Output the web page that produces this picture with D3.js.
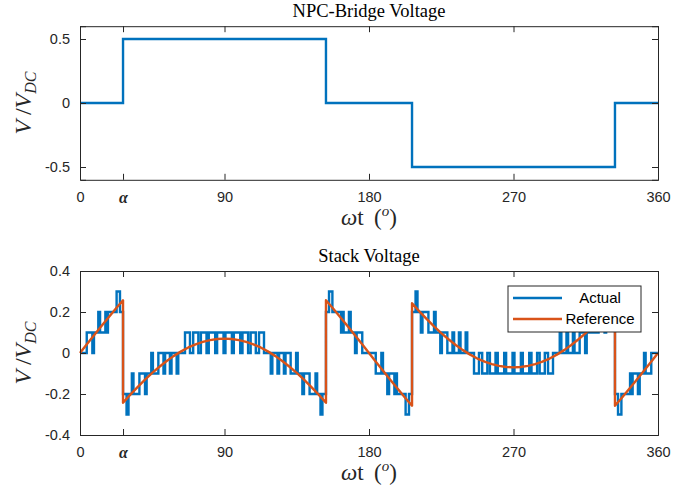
<!DOCTYPE html>
<html>
<head>
<meta charset="utf-8">
<script src="https://cdn.jsdelivr.net/npm/d3@7/dist/d3.min.js"></script>
<style>
  body { margin: 0; background: #fff; }
  svg { display: block; }
</style>
</head>
<body>
<svg id="chart" width="697" height="491"></svg>
<script>
// firing angle of the NPC bridge (deg)
let alphaDeg = 26.8;

let xTicks = [0, alphaDeg, 90, 180, 270, 360];
let xTickLabels = ["0", "α", "90", "180", "270", "360"];

// NPC-bridge output (step after)
let npcDeg = [0, 26.8, 153.2, 206.8, 333.2, 360];
let npcLevel = [0, 0.5, 0, -0.5, 0, 0];

// stack voltage, actual (step after: level starting at each angle)
let actualDeg = [
  0, 4.2, 7.7, 8.7, 11.4, 12.5, 15.8, 16.6, 17.4, 22.8, 24.9,
  26.8, 29.0, 30.2, 32.3, 33.3, 37.0, 40.5, 41.5, 44.4, 45.4, 48.8,
  52.0, 53.0, 56.0, 57.0, 60.2, 61.2, 65.4, 68.5, 70.5, 73.7, 75.3,
  78.8, 80.2, 84.2, 85.4, 89.4, 90.6, 94.6, 95.8, 99.8, 101.2, 104.7,
  106.3, 109.5, 111.5, 114.6, 118.8, 119.8, 123.0, 124.0, 127.0, 128.0,
  131.2, 134.6, 135.6, 138.5, 139.5, 143.0, 146.7, 147.7, 149.8, 151.0,
  153.2, 155.1, 157.2, 162.6, 163.4, 164.2, 167.5, 168.6, 171.3, 172.3, 175.8,
  184.2, 187.7, 188.7, 191.4, 192.5, 195.8, 196.6, 197.4, 202.8, 204.9,
  206.8, 209.0, 210.2, 212.3, 213.3, 217.0, 220.5, 221.5, 224.4, 225.4, 228.8,
  232.0, 233.0, 236.0, 237.0, 240.2, 241.2, 245.4, 248.5, 250.5, 253.7, 255.3,
  258.8, 260.2, 264.2, 265.4, 269.4, 270.6, 274.6, 275.8, 279.8, 281.2, 284.7,
  286.3, 289.5, 291.5, 294.6, 298.8, 299.8, 303.0, 304.0, 307.0, 308.0,
  311.2, 314.6, 315.6, 318.5, 319.5, 323.0, 326.7, 327.7, 329.8, 331.0,
  333.2, 335.1, 337.2, 342.6, 343.4, 344.2, 347.5, 348.6, 351.3, 352.3, 355.8,
  360
];
let actualLevel = [
  0, 0.1, 0, 0.1, 0.2, 0.1, 0.2, 0.1, 0.2, 0.3, 0.2,
  -0.2, -0.3, -0.2, -0.1, -0.2, -0.1, -0.2, -0.1, 0, -0.1, 0,
  -0.1, 0, -0.1, 0, -0.1, 0, 0.1, 0, 0.1, 0, 0.1,
  0, 0.1, 0, 0.1, 0, 0.1, 0, 0.1, 0, 0.1, 0,
  0.1, 0, 0.1, 0, -0.1, 0, -0.1, 0, -0.1, 0,
  -0.1, 0, -0.1, -0.2, -0.1, -0.2, -0.1, -0.2, -0.3, -0.2,
  0.2, 0.3, 0.2, 0.1, 0.2, 0.1, 0.2, 0.1, 0, 0.1, 0,
  -0.1, 0, -0.1, -0.2, -0.1, -0.2, -0.1, -0.2, -0.3, -0.2,
  0.2, 0.3, 0.2, 0.1, 0.2, 0.1, 0.2, 0.1, 0, 0.1, 0,
  0.1, 0, 0.1, 0, 0.1, 0, -0.1, 0, -0.1, 0, -0.1,
  0, -0.1, 0, -0.1, 0, -0.1, 0, -0.1, 0, -0.1, 0,
  -0.1, 0, -0.1, 0, 0.1, 0, 0.1, 0, 0.1, 0,
  0.1, 0, 0.1, 0.2, 0.1, 0.2, 0.1, 0.2, 0.3, 0.2,
  -0.2, -0.3, -0.2, -0.1, -0.2, -0.1, -0.2, -0.1, 0, -0.1, 0,
  0
];

// stack voltage, reference
let refDeg = [
  0, 4.5, 9, 13.5, 18, 22.5, 26.8,
  26.8, 31.5, 36, 40.5, 45, 49.5, 54, 58.5, 63, 67.5, 72, 76.5, 81, 85.5, 90,
  94.5, 99, 103.5, 108, 112.5, 117, 121.5, 126, 130.5, 135, 139.5, 144, 148.5, 153.2,
  153.2, 157.5, 162, 166.5, 171, 175.5, 180,
  184.5, 189, 193.5, 198, 202.5, 206.8,
  206.8, 211.5, 216, 220.5, 225, 229.5, 234, 238.5, 243, 247.5, 252, 256.5, 261, 265.5, 270,
  274.5, 279, 283.5, 288, 292.5, 297, 301.5, 306, 310.5, 315, 319.5, 324, 328.5, 333.2,
  333.2, 337.5, 342, 346.5, 351, 355.5, 360
];
let refVal = [
  0, 0.045, 0.089, 0.133, 0.176, 0.218, 0.257,
  -0.243, -0.202, -0.165, -0.130, -0.097, -0.067, -0.039, -0.014, 0.008, 0.027, 0.042, 0.054, 0.063, 0.068, 0.070,
  0.068, 0.063, 0.054, 0.042, 0.027, 0.008, -0.014, -0.039, -0.067, -0.097, -0.130, -0.165, -0.202, -0.243,
  0.257, 0.218, 0.176, 0.133, 0.089, 0.045, 0,
  -0.045, -0.089, -0.133, -0.176, -0.218, -0.257,
  0.243, 0.202, 0.165, 0.130, 0.097, 0.067, 0.039, 0.014, -0.008, -0.027, -0.042, -0.054, -0.063, -0.068, -0.070,
  -0.068, -0.063, -0.054, -0.042, -0.027, -0.008, 0.014, 0.039, 0.067, 0.097, 0.130, 0.165, 0.202, 0.243,
  -0.257, -0.218, -0.176, -0.133, -0.089, -0.045, 0
];

let topYTicks = [-0.5, 0, 0.5];
let topYLabels = ["-0.5", "0", "0.5"];
let botYTicks = [-0.4, -0.2, 0, 0.2, 0.4];
let botYLabels = ["-0.4", "-0.2", "0", "0.2", "0.4"];

let blue = "#0072BD";
let orange = "#D95319";
let axisColor = "#262626";

let svg = d3.select("#chart");

let left = 80, right = 658;
let x = d3.scaleLinear().domain([0, 360]).range([left, right]);

let panels = [
  { title: "NPC-Bridge Voltage", top: 26.2, bottom: 179.8, domain: [-0.6, 0.6], yt: topYTicks, yl: topYLabels },
  { title: "Stack Voltage", top: 271, bottom: 435, domain: [-0.4, 0.4], yt: botYTicks, yl: botYLabels }
];

let serif = "'Liberation Serif', 'Times New Roman', serif";

let drawAxes = (p, y) => {
  let g = svg.append("g");
  let tickLen = 6;

  let bottomAxis = d3.axisBottom(x).tickValues(xTicks).tickSize(-tickLen).tickFormat((d, i) => xTickLabels[i]).tickPadding(12);
  let topAxis = d3.axisTop(x).tickValues(xTicks).tickSize(-tickLen).tickFormat("");
  let leftAxis = d3.axisLeft(y).tickValues(p.yt).tickSize(-tickLen).tickFormat((d, i) => p.yl[i]).tickPadding(10);
  let rightAxis = d3.axisRight(y).tickValues(p.yt).tickSize(-tickLen).tickFormat("");

  g.append("g").attr("transform", `translate(0,${p.bottom})`).call(bottomAxis);
  g.append("g").attr("transform", `translate(0,${p.top})`).call(topAxis);
  g.append("g").attr("transform", `translate(${left},0)`).call(leftAxis);
  g.append("g").attr("transform", `translate(${right},0)`).call(rightAxis);

  g.selectAll(".domain").attr("stroke", axisColor).attr("stroke-width", 1);
  g.selectAll(".tick line").attr("stroke", axisColor).attr("stroke-width", 1);
  g.selectAll(".tick text")
    .attr("fill", axisColor)
    .style("font-family", "'Liberation Sans', Arial, sans-serif")
    .style("font-size", "14.5px");

  // alpha label in bold italic serif
  g.selectAll(".tick text").filter(d => d === alphaDeg)
    .style("font-family", serif)
    .style("font-style", "italic")
    .style("font-weight", "bold")
    .style("font-size", "16px");

  // title
  svg.append("text")
    .attr("x", (left + right) / 2)
    .attr("y", p.top - 9)
    .attr("text-anchor", "middle")
    .style("font-family", serif)
    .style("font-size", "18.5px")
    .attr("fill", "#000")
    .text(p.title);

  // x label:  ωt (°)
  let xl = svg.append("text")
    .attr("x", (left + right) / 2)
    .attr("y", p.bottom + 45)
    .attr("text-anchor", "middle")
    .style("font-family", serif)
    .style("font-size", "23px")
    .attr("fill", axisColor);
  xl.append("tspan").style("font-style", "italic").text("ω");
  xl.append("tspan").text("t\u2009 (");
  xl.append("tspan").style("font-style", "italic").style("font-size", "15px").attr("dy", -9).text("o");
  xl.append("tspan").attr("dy", 9).text(")");

  // y label:  V/V_DC
  let cy = (p.top + p.bottom) / 2;
  let yl = svg.append("text")
    .attr("transform", `translate(31,${cy}) rotate(-90)`)
    .attr("text-anchor", "middle")
    .style("font-family", serif)
    .style("font-size", "24px")
    .attr("fill", axisColor);
  yl.append("tspan").style("font-style", "italic").text("V");
  yl.append("tspan").text("\u2009/");
  yl.append("tspan").style("font-style", "italic").text("V");
  yl.append("tspan").style("font-style", "italic").style("font-size", "16px").attr("dy", 5).text("DC");
};

let stepLine = (y) => d3.line().x(d => x(d[0])).y(d => y(d[1])).curve(d3.curveStepAfter);

// ---- top panel ----
let p0 = panels[0];
let y0 = d3.scaleLinear().domain(p0.domain).range([p0.bottom, p0.top]);
let npcData = npcDeg.map((d, i) => [d, npcLevel[i]]);
svg.append("path")
  .datum(npcData)
  .attr("d", stepLine(y0))
  .attr("fill", "none")
  .attr("stroke", blue)
  .attr("stroke-width", 2.4);
drawAxes(p0, y0);

// ---- bottom panel ----
let p1 = panels[1];
let y1 = d3.scaleLinear().domain(p1.domain).range([p1.bottom, p1.top]);
let actualData = actualDeg.map((d, i) => [d, actualLevel[i]]);
let refData = refDeg.map((d, i) => [d, refVal[i]]);

svg.append("path")
  .datum(actualData)
  .attr("d", stepLine(y1))
  .attr("fill", "none")
  .attr("stroke", blue)
  .attr("stroke-width", 2.4);

svg.append("path")
  .datum(refData)
  .attr("d", d3.line().x(d => x(d[0])).y(d => y1(d[1])))
  .attr("fill", "none")
  .attr("stroke", orange)
  .attr("stroke-width", 2.4)
  .attr("stroke-linejoin", "round");

drawAxes(p1, y1);

// legend
let legend = svg.append("g").attr("transform", "translate(508,286)");
legend.append("rect")
  .attr("width", 133).attr("height", 46)
  .attr("fill", "#fff")
  .attr("stroke", axisColor).attr("stroke-width", 1);
let legendItems = [{ name: "Actual", color: blue }, { name: "Reference", color: orange }];
legendItems.forEach((item, i) => {
  let ly = 12 + i * 21;
  legend.append("line")
    .attr("x1", 5).attr("x2", 54)
    .attr("y1", ly).attr("y2", ly)
    .attr("stroke", item.color).attr("stroke-width", 2.4);
  legend.append("text")
    .attr("x", 92).attr("y", ly + 5)
    .attr("text-anchor", "middle")
    .style("font-family", "'Liberation Sans', Arial, sans-serif")
    .style("font-size", "15px")
    .attr("fill", "#000")
    .text(item.name);
});
</script>
</body>
</html>
